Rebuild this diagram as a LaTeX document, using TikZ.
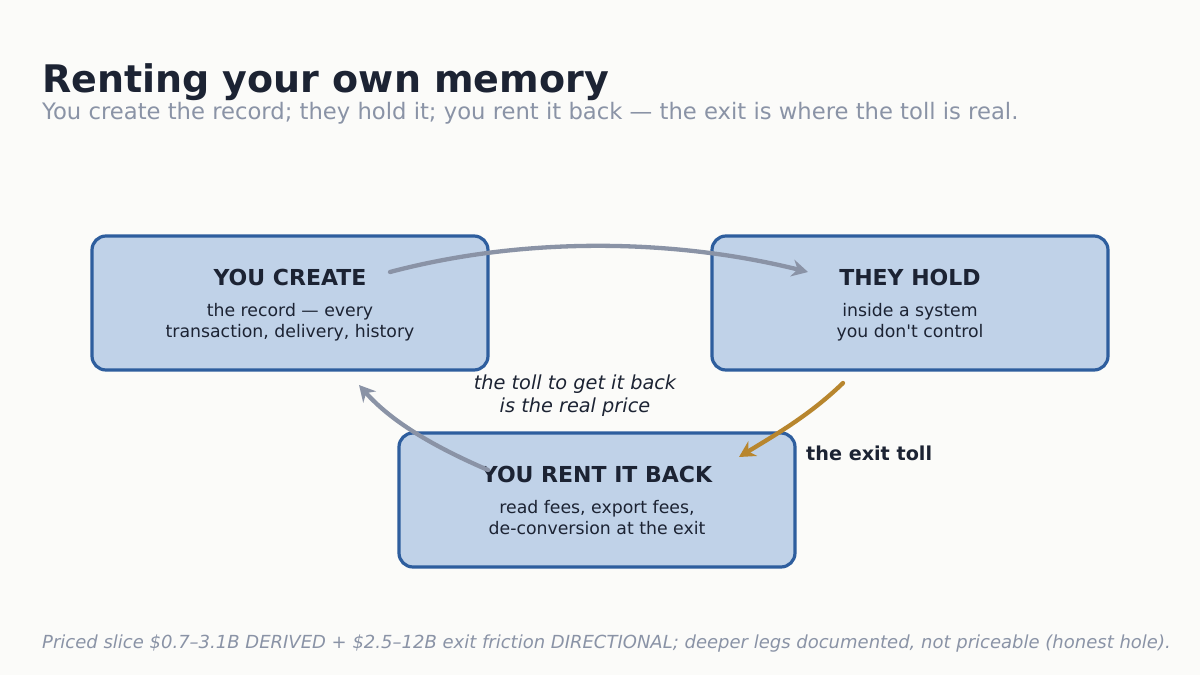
\documentclass[tikz,border=0pt]{standalone}
\usepackage{fontspec}
\setmainfont{DejaVu Sans}
\usetikzlibrary{arrows.meta}
\definecolor{bg}{HTML}{FBFBF9}
\definecolor{ink}{HTML}{1C2333}
\definecolor{muted}{HTML}{8A93A6}
\definecolor{boxfill}{HTML}{C0D2E8}
\definecolor{boxline}{HTML}{2E5E9E}
\definecolor{gold}{HTML}{B8862E}
\tikzset{
  stage/.style={draw=boxline, fill=boxfill, line width=3.2pt, rounded corners=14pt,
    minimum width=396pt, minimum height=134pt},
  head/.style={font=\fontsize{22}{26}\selectfont\bfseries, text=ink},
  body/.style={font=\fontsize{17.3}{21}\selectfont, text=ink, align=center},
  loop/.style={line width=4.3pt, draw=muted, line cap=round, -{Stealth[length=16pt,width=17pt]}},
}
\begin{document}
\begin{tikzpicture}[x=1pt,y=-1pt]
\fill[bg] (0,0) rectangle (1200,675);
\useasboundingbox (0,0) rectangle (1200,675);
\node[anchor=base west, font=\fontsize{38}{44}\selectfont\bfseries, text=ink, inner sep=0] (title) at (42,92) {Renting your own memory};
\node[anchor=base west, font=\fontsize{22.7}{26}\selectfont, text=muted, inner sep=0] (sub) at (42,119) {You create the record; they hold it; you rent it back — the exit is where the toll is real.};
% the three stages
\node[stage] (create) at (290,303) {};
\node[stage] (hold) at (910,303) {};
\node[stage] (rent) at (597,500) {};
\node[head] at (290,277) {YOU CREATE};
\node[body] at (290,322) {the record — every\\transaction, delivery, history};
\node[head] at (910,277) {THEY HOLD};
\node[body] at (910,322) {inside a system\\you don\textquotesingle t control};
\node[head] at (597,474) {YOU RENT IT BACK};
\node[body] at (597,518) {read fees, export fees,\\de-conversion at the exit};
% arrow ends
\coordinate (c1) at (390,272);
\coordinate (h1) at (808,272);
\coordinate (h2) at (843,383);
\coordinate (r1) at (739,457);
\coordinate (r2) at (488,470);
\coordinate (c2) at (359,385);
\draw[loop] (c1) .. controls (530,235) and (680,240) .. (h1);
\draw[loop, draw=gold] (h2) .. controls (810,415) and (775,435) .. (r1);
\draw[loop] (r2) .. controls (430,445) and (390,420) .. (c2);
\node[font=\fontsize{19.3}{23}\selectfont\itshape, text=ink, align=center] (toll) at (575,396) {the toll to get it back\\is the real price};
\node[anchor=west, font=\fontsize{19.2}{22}\selectfont\bfseries, text=ink, inner sep=0] (exit) at (806,453) {the exit toll};
\node[anchor=base west, font=\fontsize{18}{20}\selectfont\itshape, text=muted, inner sep=0] (note) at (42,648) {Priced slice \$0.7–3.1B DERIVED + \$2.5–12B exit friction DIRECTIONAL; deeper legs documented, not priceable (honest hole).};
\end{tikzpicture}
\end{document}
